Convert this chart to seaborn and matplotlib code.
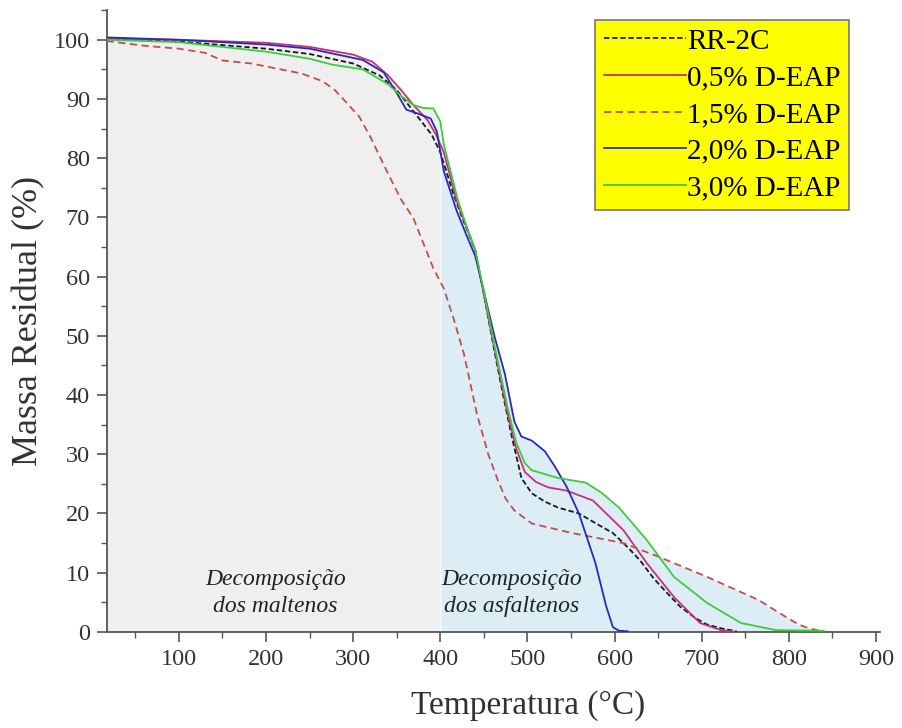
import numpy as np
import pandas as pd
import matplotlib
matplotlib.use("Agg")
import matplotlib.pyplot as plt
import seaborn as sns
from matplotlib.ticker import MultipleLocator

# temperatura (°C) e massa residual (%)
t_rr = [17, 100, 200, 250, 300, 330, 350, 372, 390, 400, 415, 425, 440, 450, 462, 472, 482, 493,
        505, 520, 535, 559, 580, 598, 615, 629, 645, 660, 675, 691, 705, 722, 740]
m_rr = [100.2, 99.7, 98.5, 97.6, 96.0, 94.0, 91.5, 87.4, 84.0, 81.0, 74.0, 70.0, 64.5, 57.0, 47.5,
        40.0, 33.0, 26.0, 23.4, 22.0, 21.0, 20.0, 18.2, 16.7, 14.3, 12.1, 9.0, 6.6, 4.3, 2.5, 1.3, 0.6, 0.1]

t_05 = [17, 100, 200, 250, 300, 322, 340, 355, 369, 385, 395, 404, 419, 430, 440, 450, 462, 477,
        487, 497, 510, 524, 544, 575, 610, 637, 668, 698, 722, 735]
m_05 = [100.2, 100.0, 99.5, 98.8, 97.5, 96.3, 94.0, 91.5, 89.0, 86.5, 84.0, 81.0, 72.7, 68.5, 64.5,
        57.0, 48.0, 37.0, 31.0, 27.0, 25.3, 24.4, 23.9, 22.2, 17.2, 11.6, 5.9, 1.5, 0.3, 0.1]

t_15 = [17, 60, 100, 130, 150, 183, 241, 265, 279, 291, 307, 320, 337, 355, 369, 392, 404, 415,
        427, 442, 455, 466, 475, 485, 505, 551, 610, 652, 706, 765, 800, 812, 823, 835]
m_15 = [99.8, 99.0, 98.5, 97.8, 96.5, 96.0, 94.3, 93.0, 91.5, 89.6, 87.0, 83.5, 78.3, 73.0, 69.9,
        61.4, 58.0, 53.0, 47.0, 36.8, 30.0, 25.6, 22.5, 20.5, 18.3, 16.7, 15.0, 12.6, 9.3, 5.4, 2.2,
        1.2, 0.6, 0.2]

t_20 = [17, 100, 200, 250, 311, 335, 350, 361, 375, 389, 396, 404, 419, 430, 440, 450, 462, 474,
        485, 493, 505, 520, 532, 545, 559, 578, 590, 598, 605, 615]
m_20 = [100.4, 100.0, 99.2, 98.5, 96.6, 94.5, 91.0, 88.2, 87.5, 86.7, 84.5, 77.8, 71.0, 67.0, 63.5,
        57.5, 50.0, 43.6, 35.5, 33.0, 32.3, 30.5, 27.8, 24.5, 20.0, 11.6, 4.5, 0.8, 0.2, 0.1]

t_30 = [17, 100, 200, 250, 276, 311, 340, 355, 369, 380, 392, 400, 404, 420, 430, 440, 450, 462,
        477, 487, 497, 505, 535, 567, 585, 605, 637, 668, 706, 745, 785, 840]
m_30 = [100.0, 99.6, 98.0, 96.8, 95.8, 95.0, 92.5, 90.5, 89.0, 88.5, 88.4, 86.2, 82.3, 73.0, 68.5,
        64.5, 57.5, 48.5, 38.0, 32.0, 28.5, 27.3, 26.0, 25.2, 23.5, 21.0, 15.5, 9.3, 4.9, 1.5, 0.3, 0.2]

amostras = ["RR-2C", "0,5% D-EAP", "1,5% D-EAP", "2,0% D-EAP", "3,0% D-EAP"]
series = [(t_rr, m_rr), (t_05, m_05), (t_15, m_15), (t_20, m_20), (t_30, m_30)]
cores = ["#1a1a1a", "#c8307c", "#c0504d", "#2a2ab8", "#3ccc3c"]
estilos = [(0, (3, 1.5)), "-", (0, (4, 2.5)), "-", "-"]

plt.rcParams["font.family"] = ["Liberation Serif", "DejaVu Serif"]

fig, ax = plt.subplots(figsize=(9.03, 7.28), dpi=100)
fig.subplots_adjust(left=0.118, right=0.975, bottom=0.132, top=0.986)

# envelope das curvas para o sombreamento das regiões
grade = np.linspace(17, 840, 700)
env = np.max([np.interp(grade, t, m, right=0) for t, m in series], axis=0)
ax.fill_between(grade, 0, env, where=grade <= 400, color="#efefef", lw=0, zorder=0)
ax.fill_between(grade, 0, env, where=grade >= 400, color="#dcedf5", lw=0, zorder=0)

for nome, (t, m), c, ls in zip(amostras, series, cores, estilos):
    df = pd.DataFrame({"Temperatura": t, "Massa": m})
    sns.lineplot(data=df, x="Temperatura", y="Massa", color=c, linestyle=ls,
                 lw=1.3, label=nome, ax=ax, zorder=3)

ax.set_xlim(17, 905)
ax.set_ylim(0, 105)
ax.xaxis.set_major_locator(MultipleLocator(100))
ax.xaxis.set_minor_locator(MultipleLocator(50))
ax.yaxis.set_major_locator(MultipleLocator(10))
ax.yaxis.set_minor_locator(MultipleLocator(5))
ax.set_xticks(range(100, 901, 100))

for s in ["top", "right"]:
    ax.spines[s].set_visible(False)
for s in ["left", "bottom"]:
    ax.spines[s].set_color("#555555")
    ax.spines[s].set_linewidth(1.3)
ax.tick_params(which="major", direction="out", length=7, width=1.2, color="#555555",
               labelsize=17.5, labelcolor="#333333", pad=5)
ax.tick_params(which="minor", direction="out", length=4, width=1.0, color="#555555")

ax.set_xlabel("Temperatura (°C)", fontsize=24, color="#333333")
ax.xaxis.set_label_coords(0.545, -0.094)
ax.set_ylabel("Massa Residual (%)", fontsize=26, color="#333333", labelpad=6)

ax.text(211, 6.6, "Decomposição\ndos maltenos", fontsize=17, style="italic",
        ha="center", va="center", linespacing=1.35, color="#222222")
ax.text(482, 6.6, "Decomposição\ndos asfaltenos", fontsize=17, style="italic",
        ha="center", va="center", linespacing=1.35, color="#222222")

leg = ax.legend(loc="upper right", bbox_to_anchor=(0.96, 0.985), fontsize=21,
                handlelength=2.8, handletextpad=0.05, labelspacing=0.35,
                borderpad=0.3, borderaxespad=0, fancybox=False, framealpha=1)
leg.get_frame().set_facecolor("#ffff00")
leg.get_frame().set_edgecolor("#777777")
leg.get_frame().set_linewidth(1.2)

plt.savefig("out.png", dpi=100)
